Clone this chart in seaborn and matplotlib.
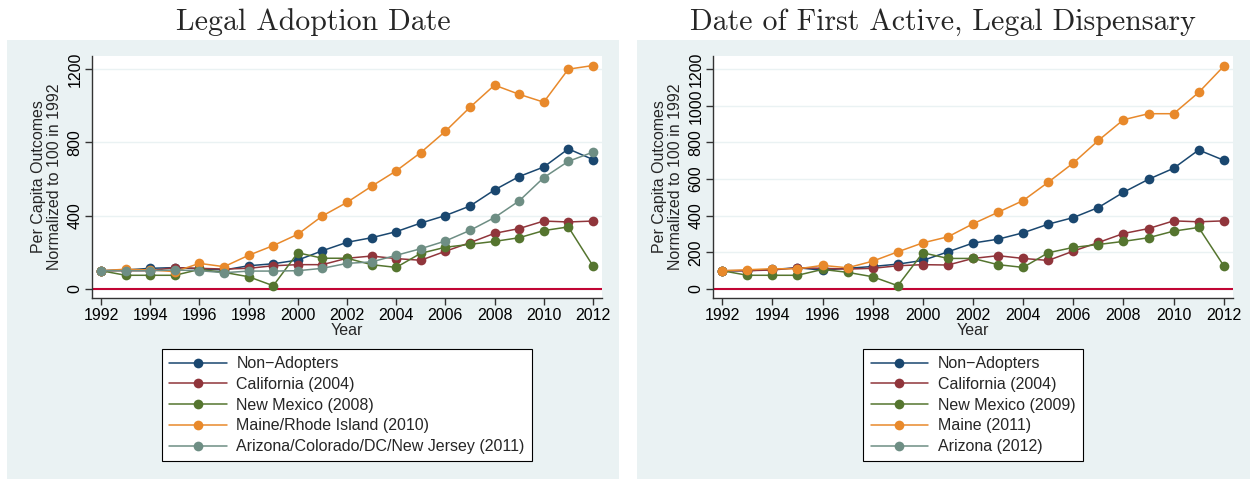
import pandas as pd
import seaborn as sns
import matplotlib.pyplot as plt
from matplotlib.lines import Line2D
from matplotlib.patches import Rectangle

years = list(range(1992, 2013))

# Left panel: legal adoption date
left_labels = ['Non\u2212Adopters', 'California (2004)', 'New Mexico (2008)',
               'Maine/Rhode Island (2010)', 'Arizona/Colorado/DC/New Jersey (2011)']
left_nonadopt = [100, 104, 113, 117, 110, 104, 127, 138, 158, 209, 255, 280, 313, 360, 401, 453, 541, 614, 666, 765, 707]
left_calif = [100, 100, 100, 117, 113, 109, 113, 127, 133, 133, 168, 180, 166, 157, 206, 253, 304, 330, 371, 366, 371]
left_newmex = [100, 75, 75, 75, 107, 91, 67, 18, 198, 168, 168, 133, 118, 195, 228, 244, 260, 280, 319, 339, 127]
left_maine = [100, 108, 104, 95, 140, 122, 184, 237, 299, 399, 473, 561, 645, 745, 861, 992, 1113, 1063, 1020, 1200, 1220]
left_arizona = [100, 100, 100, 104, 100, 89, 98, 98, 100, 113, 140, 148, 184, 220, 262, 320, 390, 481, 608, 697, 747]

# Right panel: first active, legal dispensary
right_labels = ['Non\u2212Adopters', 'California (2004)', 'New Mexico (2009)',
                'Maine (2011)', 'Arizona (2012)']
right_nonadopt = [100, 100, 107, 116, 103, 113, 123, 136, 156, 203, 251, 272, 307, 354, 390, 445, 528, 599, 659, 759, 703]
right_calif = [100, 100, 104, 116, 113, 109, 113, 127, 133, 131, 167, 182, 167, 156, 207, 254, 303, 330, 372, 367, 372]
right_newmex = [100, 75, 75, 75, 107, 91, 67, 18, 198, 167, 167, 133, 118, 198, 227, 243, 260, 280, 316, 336, 127]
right_maine = [100, 105, 111, 110, 129, 116, 152, 203, 252, 285, 356, 419, 483, 583, 688, 811, 924, 957, 957, 1073, 1216]
right_arizona = []  # no points drawn in the reference

colors = ['#1A476F', '#90353B', '#55752F', '#E8892B', '#6E8E84']
panel_bg = '#EAF2F3'
fs = 11.5

sns.set_theme(style='white')
plt.rcParams['font.family'] = ['Liberation Sans', 'DejaVu Sans']


def long_frame(labels, series):
    rows = []
    for lab, vals in zip(labels, series):
        for yr, v in zip(years, vals):
            rows.append({'Year': yr, 'value': v, 'series': lab})
    return pd.DataFrame(rows)


fig = plt.figure(figsize=(12.5, 4.79), dpi=100)
fig.patch.set_facecolor('white')
fig.add_artist(Rectangle((7 / 1250, 0), 612 / 1250, 439 / 479, transform=fig.transFigure,
                         facecolor=panel_bg, edgecolor='none', zorder=0))
fig.add_artist(Rectangle((637 / 1250, 0), 613 / 1250, 439 / 479, transform=fig.transFigure,
                         facecolor=panel_bg, edgecolor='none', zorder=0))

ax1 = fig.add_axes([92 / 1250, 181 / 479, 510 / 1250, 242 / 479])
ax2 = fig.add_axes([713 / 1250, 181 / 479, 520 / 1250, 242 / 479])

panels = [
    (ax1, left_labels, [left_nonadopt, left_calif, left_newmex, left_maine, left_arizona],
     [0, 400, 800, 1200]),
    (ax2, right_labels, [right_nonadopt, right_calif, right_newmex, right_maine, right_arizona],
     list(range(0, 1201, 200))),
]

for ax, labels, series, yticks in panels:
    df = long_frame(labels, series)
    present = [l for l, s in zip(labels, series) if len(s)]
    pal = {l: c for l, c in zip(labels, colors)}
    sns.lineplot(data=df, x='Year', y='value', hue='series', hue_order=present,
                 palette=pal, marker='o', markersize=7, markeredgewidth=0,
                 linewidth=1.1, legend=False, ax=ax, zorder=3)
    ax.axhline(0, color='#C10534', lw=1.5, zorder=2)
    ax.set_xlim(1991.63, 2012.37)
    ax.set_ylim(-49, 1272)
    ax.set_xticks(list(range(1992, 2013, 2)))
    ax.set_yticks(yticks)
    ax.set_yticklabels([str(t) for t in yticks], rotation=90, va='center')
    ax.grid(axis='y', color=panel_bg, lw=1)
    ax.grid(axis='x', visible=False)
    for s in ['top', 'right']:
        ax.spines[s].set_visible(False)
    for s in ['left', 'bottom']:
        ax.spines[s].set_color('#333333')
        ax.spines[s].set_linewidth(1)
    ax.tick_params(axis='both', which='major', direction='out', length=5, width=1,
                   color='#333333', labelsize=fs, labelcolor='black', bottom=True, left=True, pad=2)
    ax.set_xlabel('Year', fontsize=fs, labelpad=0)
    ax.set_ylabel('Per Capita Outcomes\nNormalized to 100 in 1992', fontsize=fs, labelpad=4,
                  linespacing=1.05)

    bbox = ax.get_position()
    cx = (bbox.x0 + bbox.x1) / 2
    handles = [Line2D([], [], color=c, lw=1.1, marker='o', markersize=7, markeredgewidth=0)
               for c in colors]
    leg = fig.legend(handles, labels, loc='upper center', bbox_to_anchor=(cx, 130 / 479),
                     fontsize=fs, frameon=True, fancybox=False, framealpha=1,
                     edgecolor='black', handlelength=3.6, labelspacing=0.36,
                     borderpad=0.45, handletextpad=0.6, borderaxespad=0)
    leg.get_frame().set_linewidth(0.8)

fig.text(313 / 1250, 1 - 22 / 479, 'Legal Adoption Date', fontfamily='cmr10',
         fontsize=21.5, ha='center', va='center')
fig.text(943 / 1250, 1 - 22 / 479, 'Date of First Active, Legal Dispensary', fontfamily='cmr10',
         fontsize=21.5, ha='center', va='center')

plt.savefig('out.png', dpi=100)
